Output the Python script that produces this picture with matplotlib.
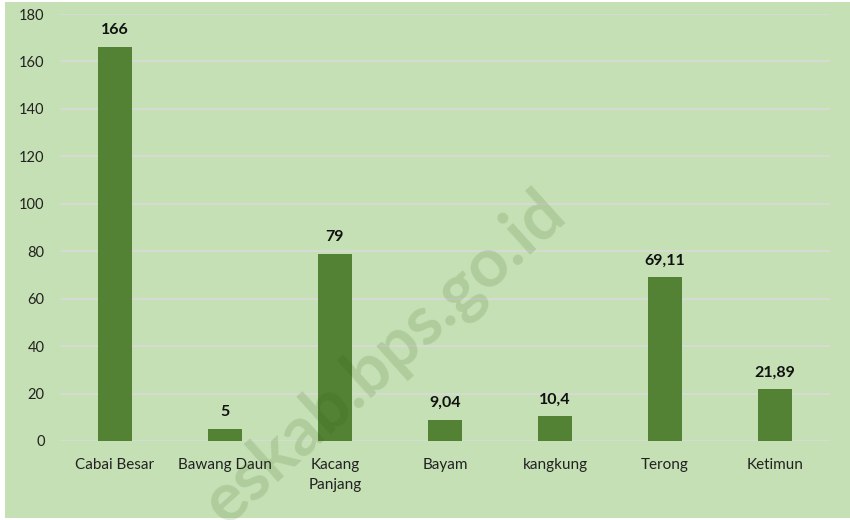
import matplotlib
matplotlib.use("Agg")
import matplotlib.pyplot as plt

categories = ["Cabai Besar", "Bawang Daun", "Kacang\nPanjang", "Bayam", "kangkung", "Terong", "Ketimun"]
values = [166, 5, 79, 9.04, 10.4, 69.11, 21.89]
value_labels = ["166", "5", "79", "9,04", "10,4", "69,11", "21,89"]
yticks = [0, 20, 40, 60, 80, 100, 120, 140, 160, 180]

W, H = 850, 520
plt.rcParams['font.family'] = ['Lato', 'DejaVu Sans']
fig = plt.figure(figsize=(W / 100, H / 100), dpi=100, facecolor="white")

# chart-area background
bg = fig.add_axes([5 / W, 2 / H, (W - 5) / W, (H - 4) / H])
bg.set_facecolor("#c5e0b4")
bg.set_xticks([]); bg.set_yticks([])
for s in bg.spines.values():
    s.set_visible(False)
bg.set_zorder(0)

ax = fig.add_axes([60 / W, (H - 441) / H, 770 / W, (441 - 14) / H])
ax.set_zorder(1)
ax.set_facecolor("none")
x = list(range(len(categories)))
ax.bar(x, values, width=0.31, color="#548235", zorder=3)
ax.set_xlim(-0.5, len(categories) - 0.5)
ax.set_ylim(0, 180)
ax.set_yticks(yticks)
ax.set_yticklabels([str(t) for t in yticks], fontsize=10.5, color="#222222")
ax.set_xticks(x)
ax.set_xticklabels(categories, fontsize=11, color="#222222", linespacing=1.6)
ax.tick_params(axis="both", length=0)
ax.tick_params(axis="y", pad=11)
ax.tick_params(axis="x", pad=12)
for s in ax.spines.values():
    s.set_visible(False)
ax.yaxis.grid(True, color="#d9d9d9", linewidth=1.2, zorder=1)
ax.set_axisbelow(True)

for xi, v, lab in zip(x, values, value_labels):
    ax.annotate(lab, (xi, v), xytext=(0, 7), textcoords="offset points",
                ha="center", va="bottom", fontsize=11.5, fontweight="bold", color="#111111")

# watermark
wm = fig.text(535 / W, 1 - 180 / H, "eskab.bps.go.id", rotation=42, fontsize=49,
              fontweight="bold", color="#2e5c10", alpha=0.15, ha="right", va="top",
              rotation_mode="anchor")
wm.set_zorder(10)

fig.savefig("out.png", dpi=100, facecolor="white")
